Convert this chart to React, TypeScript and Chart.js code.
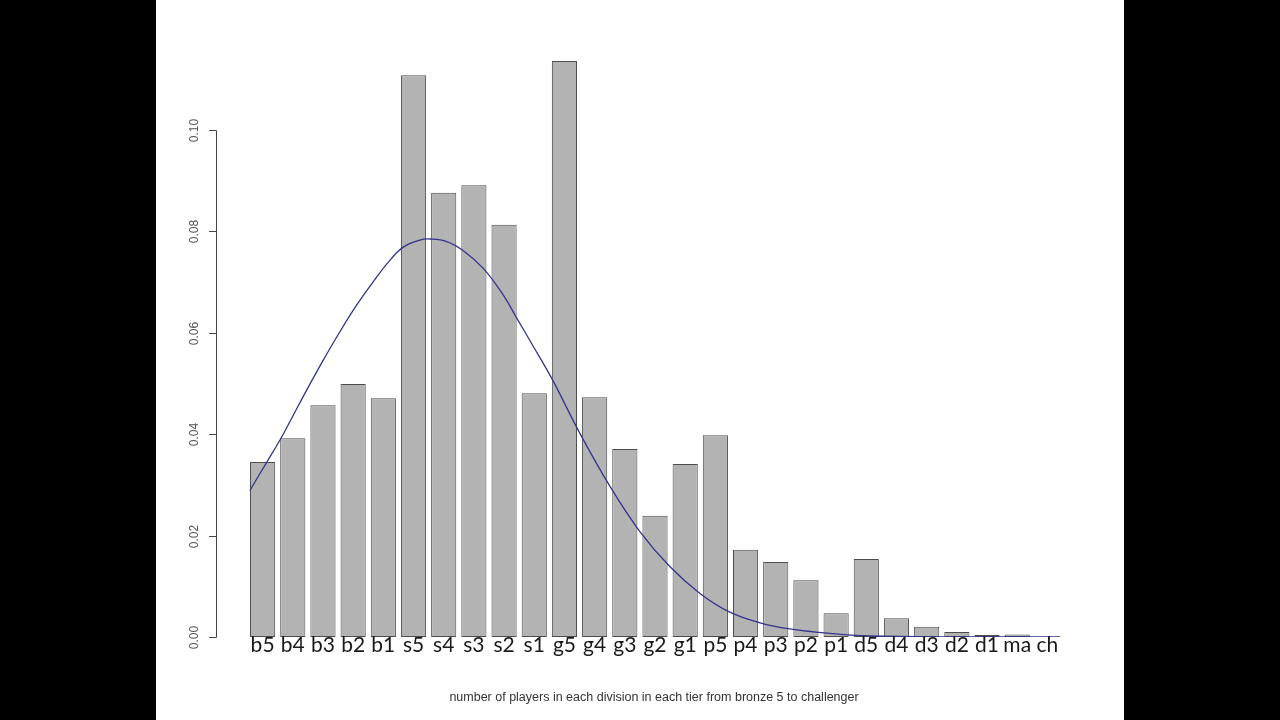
import React, { useEffect, useRef } from "react";
import { Chart, registerables } from "chart.js";

Chart.register(...registerables);

const divisions = [
  "b5", "b4", "b3", "b2", "b1",
  "s5", "s4", "s3", "s2", "s1",
  "g5", "g4", "g3", "g2", "g1",
  "p5", "p4", "p3", "p2", "p1",
  "d5", "d4", "d3", "d2", "d1",
  "ma", "ch",
];

const shares = [
  0.0345, 0.0392, 0.0457, 0.0499, 0.0471,
  0.1108, 0.0876, 0.0891, 0.0813, 0.0481,
  0.1136, 0.0473, 0.0371, 0.0239, 0.0341,
  0.0398, 0.0172, 0.0148, 0.0112, 0.0047,
  0.0154, 0.0037, 0.0020, 0.0010, 0.0004,
  0.0005, 0.0,
];

// fitted density curve (x in bar-slot units)
const curveX = [
  0.08, 0.64, 1.08, 1.46, 1.96, 2.51, 3.06, 3.62, 4.17, 4.66, 5.16, 5.71,
  6.05, 6.6, 7.15, 7.81, 8.47, 8.92, 9.47, 10.08, 11.01, 12.01, 13.0,
  13.99, 14.99, 15.98, 16.98, 17.97, 19.29, 20.63, 23.28, 26.92,
];
const curveY = [
  0.0289, 0.0345, 0.0389, 0.0431, 0.0487, 0.0546, 0.0602, 0.0655, 0.0701,
  0.0739, 0.0769, 0.0783, 0.0785, 0.078, 0.0762, 0.0727, 0.0675, 0.0629,
  0.0573, 0.051, 0.0402, 0.0297, 0.0208, 0.0139, 0.0086, 0.0049,
  0.0028, 0.0016, 0.0007, 0.0002, 0.0, 0.0,
];

const yTicks = [0, 0.02, 0.04, 0.06, 0.08, 0.1];
const yTickLabels = ["0.00", "0.02", "0.04", "0.06", "0.08", "0.10"];
const xTitle = "number of players in each division in each tier from bronze 5 to challenger";

export default function App() {
  const ref = useRef<HTMLCanvasElement | null>(null);

  useEffect(() => {
    const canvas = ref.current;
    if (!canvas) return;

    const decor = {
      id: "decor",
      beforeDraw(chart: any) {
        const ctx = chart.ctx;
        ctx.save();
        ctx.fillStyle = "#000";
        ctx.fillRect(0, 0, 1280, 720);
        ctx.fillStyle = "#fff";
        ctx.fillRect(156, 0, 968, 720);
        ctx.restore();
      },
      afterDraw(chart: any) {
        const ctx = chart.ctx;
        const y = chart.scales.y;
        const x = chart.scales.x;
        ctx.save();
        // y axis (R style)
        const ax = 216;
        ctx.strokeStyle = "#444";
        ctx.lineWidth = 1;
        ctx.beginPath();
        ctx.moveTo(ax + 0.5, Math.round(y.getPixelForValue(yTicks[0])) + 0.5);
        ctx.lineTo(ax + 0.5, Math.round(y.getPixelForValue(yTicks[yTicks.length - 1])) + 0.5);
        ctx.stroke();
        ctx.fillStyle = "#555";
        ctx.font = "12px 'Liberation Sans', Arial, sans-serif";
        ctx.textAlign = "center";
        ctx.textBaseline = "middle";
        yTicks.forEach((t, i) => {
          const py = Math.round(y.getPixelForValue(t)) + 0.5;
          ctx.beginPath();
          ctx.moveTo(ax - 7, py);
          ctx.lineTo(ax + 0.5, py);
          ctx.stroke();
          ctx.save();
          ctx.translate(195, py);
          ctx.rotate(-Math.PI / 2);
          ctx.fillText(yTickLabels[i], 0, 0);
          ctx.restore();
        });
        // x labels
        ctx.fillStyle = "#1a1a1a";
        ctx.font = "21px Lato, 'Open Sans', sans-serif";
        ctx.textAlign = "center";
        ctx.textBaseline = "alphabetic";
        divisions.forEach((d, i) => {
          ctx.fillText(d, x.getPixelForValue(i), 652);
        });
        // title
        ctx.fillStyle = "#333";
        ctx.font = "12.5px 'Liberation Sans', Arial, sans-serif";
        ctx.fillText(xTitle, 654, 701);
        ctx.restore();
      },
    };

    const chart = new Chart(canvas, {
      type: "bar",
      data: {
        labels: divisions,
        datasets: [
          {
            type: "line",
            data: curveX.map((cx, i) => ({ x: cx, y: curveY[i] })),
            xAxisID: "xc",
            borderColor: "#34348a",
            borderWidth: 1.3,
            pointRadius: 0,
            tension: 0.4,
            fill: false,
            order: 0,
          } as any,
          {
            type: "bar",
            data: shares,
            xAxisID: "x",
            backgroundColor: "#b3b3b3",
            borderColor: "#4d4d4d",
            borderWidth: 1,
            borderSkipped: false,
            grouped: false,
            barPercentage: 0.8334,
            categoryPercentage: 1,
            order: 1,
          } as any,
        ],
      },
      options: {
        responsive: false,
        animation: false,
        devicePixelRatio: 1,
        layout: { padding: { left: 247.5, right: 217.5, top: 28.6, bottom: 83 } },
        plugins: { legend: { display: false }, tooltip: { enabled: false } },
        scales: {
          x: { type: "category", display: false, offset: true },
          xc: { type: "linear", display: false, min: 0, max: 27, offset: false },
          y: { type: "linear", display: false, min: 0, max: 0.12 },
        },
      } as any,
      plugins: [decor],
    });
    return () => chart.destroy();
  }, []);

  return (
    <div style={{ position: "absolute", left: 0, top: 0, width: 1280, height: 720 }}>
      <canvas ref={ref} width={1280} height={720} style={{ display: "block" }} />
    </div>
  );
}
